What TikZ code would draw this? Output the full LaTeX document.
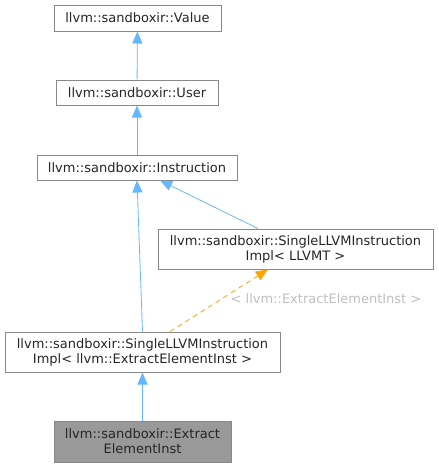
\documentclass[tikz,border=0pt]{standalone}
\usepackage{fontspec}
\setmainfont{DejaVu Sans}
\usetikzlibrary{arrows.meta,calc}
\definecolor{edgeblue}{HTML}{63B8FF}
\definecolor{edgeorange}{HTML}{FFA500}
\definecolor{boxline}{HTML}{888888}
\definecolor{boxfill}{HTML}{999999}
\definecolor{labelgrey}{HTML}{BFBFBF}
\tikzset{
  cls/.style={draw=boxline, line width=1pt, fill=white, inner sep=1pt, align=center, text=black!85},
  inherit/.style={draw=edgeblue, line width=0.8pt, -{Triangle[width=10pt,length=12pt,fill=edgeblue]}},
  tmplinst/.style={draw=edgeorange, line width=0.8pt, dashed, dash pattern=on 5pt off 4pt, -{Triangle[width=10pt,length=12pt,fill=edgeorange]}},
}
\begin{document}
\begin{tikzpicture}[x=1pt, y=-1pt, font=\fontsize{13}{15}\selectfont]
  \useasboundingbox (0,0) rectangle (439,467);
  % クラスの箱
  \node[cls, minimum width=167pt, minimum height=26pt] (value) at (137.5,18) {llvm::sandboxir::Value};
  \node[cls, minimum width=162pt, minimum height=25pt] (user) at (137,92.5) {llvm::sandboxir::User};
  \node[cls, minimum width=200pt, minimum height=25pt] (instr) at (137,167.5) {llvm::sandboxir::Instruction};
  \node[cls, minimum width=275pt, minimum height=40pt] (tmpl) at (295.5,249) {llvm::sandboxir::SingleLLVMInstruction\\Impl\textless{} LLVMT \textgreater};
  \node[cls, minimum width=275pt, minimum height=40pt] (impl) at (142.5,352) {llvm::sandboxir::SingleLLVMInstruction\\Impl\textless{} llvm::ExtractElementInst \textgreater};
  \node[cls, fill=boxfill, minimum width=177pt, minimum height=41pt] (eei) at (142.5,441.5) {llvm::sandboxir::Extract\\ElementInst};
  % 継承の矢印
  \draw[inherit] (user) -- (value);
  \draw[inherit] (instr) -- (user);
  \draw[inherit] ($(tmpl.north west)!0.364!(tmpl.north east)$) -- ($(instr.south west)!0.615!(instr.south east)$);
  \draw[inherit] (impl.north) -- (instr.south);
  \draw[inherit] (eei) -- (impl);
  % テンプレートの実体化
  \draw[tmplinst] ($(impl.north west)!0.6!(impl.north east)$) -- ($(tmpl.south west)!0.4!(tmpl.south east)$);
  \node[text=labelgrey] (arg) at (326,299) {\textless{} llvm::ExtractElementInst \textgreater};
\end{tikzpicture}
\end{document}
